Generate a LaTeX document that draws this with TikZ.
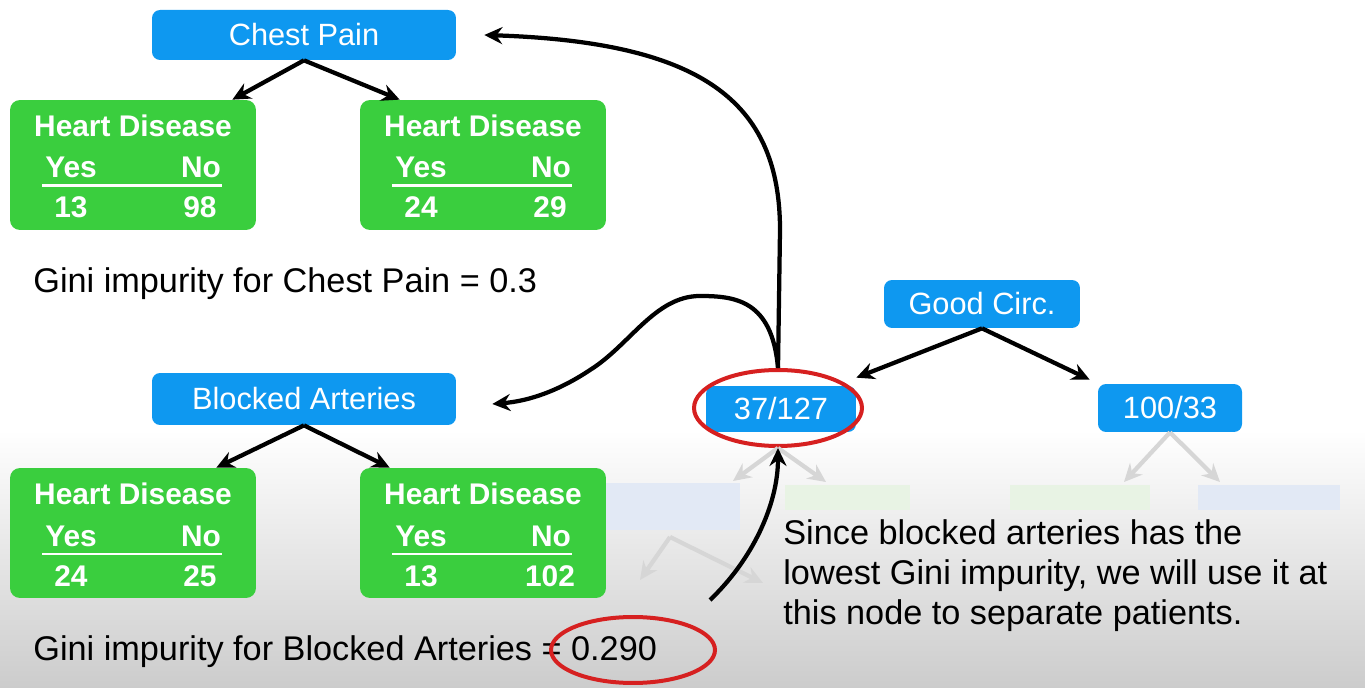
\documentclass[tikz,border=0pt]{standalone}
\usepackage{fontspec}
\setmainfont{Liberation Sans}
\usetikzlibrary{arrows.meta,shapes.geometric}
\definecolor{boxblue}{RGB}{14,152,240}
\definecolor{boxgreen}{RGB}{58,206,62}
\definecolor{ringred}{RGB}{214,32,32}
\definecolor{fadeblue}{RGB}{226,233,245}
\definecolor{fadegreen}{RGB}{232,243,228}
\definecolor{fadegray}{RGB}{214,214,214}
\tikzset{
  bluebox/.style={fill=boxblue, rounded corners=0.16cm, text=white, inner sep=0pt,
    font=\fontsize{17.5}{20}\selectfont},
  greenbox/.style={fill=boxgreen, rounded corners=0.2cm, minimum width=4.92cm,
    minimum height=2.6cm},
  hdtext/.style={text=white, anchor=base, inner sep=0pt,
    font=\bfseries\fontsize{17}{20}\selectfont},
  arr/.style={-{Stealth[length=0.36cm,width=0.34cm,inset=0.12cm]}, line width=0.085cm},
  fadearr/.style={arr, fadegray},
  ring/.style={draw=ringred, line width=0.08cm, ellipse},
  plain/.style={anchor=base west, inner sep=0pt, font=\fontsize{19.5}{22.8}\selectfont}
}
\newcommand{\hdbox}[5]{%
  \node[greenbox] (#1) at (#2,#3) {};
  \node[hdtext] (#1-t) at (#2,#3-28) {Heart Disease};
  \node[hdtext] (#1-y) at (#2-62,#3+13) {Yes};
  \node[hdtext] (#1-n) at (#2+68,#3+13) {No};
  \draw[white, line width=0.06cm] (#2-91,#3+21) -- (#2+89,#3+21);
  \node[hdtext] (#1-a) at (#2-62,#3+53) {#4};
  \node[hdtext] (#1-b) at (#2+67,#3+53) {#5};
}
\begin{document}
\begin{tikzpicture}[x=0.02cm, y=-0.02cm]
\useasboundingbox (0,0) rectangle (1365,688);
\shade[top color=white, bottom color=black!20] (0,430) rectangle (1365,688);

% faded part of the tree
\fill[fadeblue] (600,483) rectangle (740,530);
\fill[fadegreen] (785,485) rectangle (910,510);
\fill[fadegreen] (1010,485) rectangle (1150,510);
\fill[fadeblue] (1198,485) rectangle (1340,510);
\coordinate (fk) at (670,537);
\draw[fadearr] (fk) -- (640,580);
\draw[fadearr] (fk) -- (763,583);

% chest pain
\node[bluebox, minimum width=6.08cm, minimum height=1cm] (chest) at (304,35) {Chest Pain};
\hdbox{chestL}{133}{165}{13}{98}
\hdbox{chestR}{483}{165}{24}{29}
\draw[arr] (chest.south) -- ([xshift=-0.48cm]chestL.north east);
\draw[arr] (chest.south) -- ([xshift=0.8cm]chestR.north west);
\node[plain] (gini1) at (33,293) {Gini impurity for Chest Pain = 0.3};

% blocked arteries
\node[bluebox, minimum width=6.08cm, minimum height=1.04cm] (blocked) at (304,399) {Blocked Arteries};
\hdbox{blockedL}{133}{533}{24}{25}
\hdbox{blockedR}{483}{533}{13}{102}
\draw[arr] (blocked.south) -- ([xshift=-0.8cm]blockedL.north east);
\draw[arr] (blocked.south) -- ([xshift=0.6cm]blockedR.north west);
\node[plain] (gini2) at (33,660) {Gini impurity for Blocked Arteries = 0.290};
\node[ring, minimum width=3.28cm, minimum height=1.32cm] (ring2) at (633,650) {};

% good circulation
\node[bluebox, minimum width=3.92cm, minimum height=0.96cm] (good) at (982,304) {Good Circ.};
\node[bluebox, minimum width=3cm, minimum height=0.92cm] (left) at (781,409) {37/127};
\node[bluebox, minimum width=2.88cm, minimum height=0.96cm] (right) at (1170,408) {100/33};
\draw[arr] (good.south) -- ([yshift=0.16cm]left.north east);
\draw[arr] (good.south) -- ([xshift=-0.16cm,yshift=0.08cm]right.north west);
\node[ring, minimum width=3.36cm, minimum height=1.52cm] (ring1) at (778,408) {};
\draw[fadearr] (ring1.south) -- (733,481);
\draw[fadearr] (ring1.south) -- (826,482);
\draw[fadearr] (right.south) -- (1124,482);
\draw[fadearr] (right.south) -- (1220,482);

% curved pointers
\draw[arr] (ring1.north) -- (780,230) .. controls (780,100) and (700,42) .. ([xshift=0.56cm]chest.east);
\draw[arr] (ring1.north) .. controls (772,300) and (735,296) .. (700,296)
  .. controls (655,296) and (630,345) .. (590,370)
  .. controls (560,390) and (530,401) .. ([xshift=0.72cm,yshift=-0.1cm]blocked.east);
\coordinate (from) at (710,600);
\draw[arr] (from) .. controls (752,560) and (778,505) .. (ring1.south);

\node[plain, anchor=north west, align=left] (note) at (783,519)
  {Since blocked arteries has the\\lowest Gini impurity, we will use it at\\this node to separate patients.};
\end{tikzpicture}
\end{document}
